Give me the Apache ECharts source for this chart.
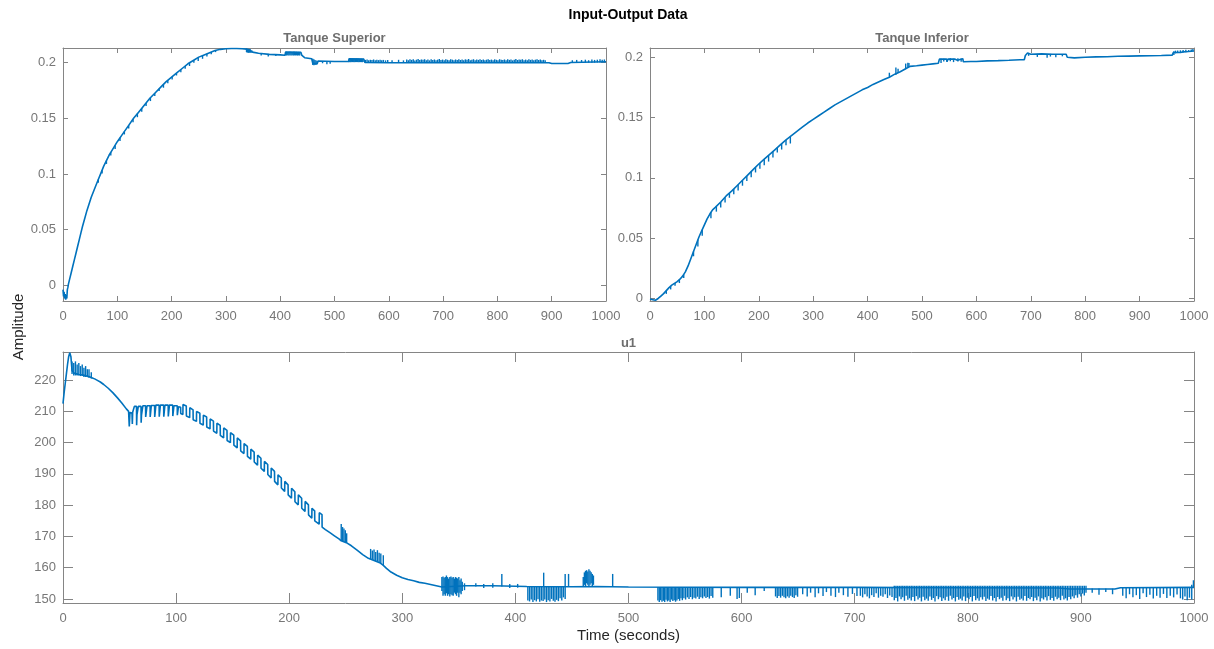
<!DOCTYPE html>
<html><head><meta charset="utf-8">
<script src="https://cdn.jsdelivr.net/npm/echarts@6/dist/echarts.min.js"></script>
<style>html,body{margin:0;padding:0;background:#fff}#c{width:1214px;height:649px}</style>
</head><body><div id="c"></div>
<script>
// ---------- DATA ----------
const timeRange = [0, 1000];
const supRange = [-0.0142, 0.2132];
const infRange = [-0.0021, 0.2077];
const u1Range = [148.7, 229.0];

// Tanque Superior: main trace [time, value]
const supLine = [[0,-0.004],[1,-0.01],[2,-0.006],[3,-0.012],[4,-0.008],[5,-0.013],[6,-0.009],[7,-0.012],[8,-0.004],[9,-0.002],[10,0.001],[12,0.005],[15,0.011],[18,0.017],[21,0.023],[24,0.029],[27,0.035],[30,0.041],[33,0.047],[36,0.053],[40,0.06],[44,0.067],[48,0.073],[52,0.079],[56,0.084],[60,0.089],[65,0.095],[70,0.101],[75,0.107],[80,0.112],[85,0.117],[90,0.121],[95,0.125],[100,0.129],[110,0.136],[120,0.143],[130,0.15],[140,0.156],[150,0.162],[160,0.168],[170,0.173],[180,0.178],[190,0.183],[200,0.187],[210,0.191],[220,0.195],[230,0.199],[240,0.202],[250,0.205],[260,0.207],[270,0.209],[280,0.211],[290,0.212],[300,0.2125],[310,0.2128],[320,0.2127],[330,0.2125],[338,0.2122],[349,0.2095],[360,0.2085],[380,0.2075],[400,0.207],[409,0.2067],[410,0.2095],[438,0.2093],[440,0.2065],[445,0.2045],[458,0.2035],[460,0.1995],[468,0.199],[470,0.2015],[500,0.201],[526,0.2012],[527,0.2035],[554,0.2032],[556,0.2002],[600,0.2],[700,0.2],[800,0.2],[895,0.2],[900,0.1993],[930,0.1993],[935,0.2002],[1000,0.2008]];
// Tanque Superior: short glitches [time, low, high]
const supSpikes = [[65,0.092,0.095],[72,0.1005,0.1034],[80,0.109,0.112],[88,0.1165,0.1194],[96,0.1225,0.1258],[105,0.1295,0.1325],[113,0.1355,0.1381],[121,0.1408,0.1437],[129,0.1465,0.1493],[137,0.151,0.1542],[145,0.156,0.159],[153,0.161,0.1638],[161,0.1655,0.1685],[169,0.17,0.1725],[177,0.1745,0.1765],[185,0.1775,0.1805],[193,0.1815,0.1842],[201,0.1848,0.1874],[209,0.1885,0.1906],[217,0.1915,0.1938],[225,0.1945,0.197],[233,0.197,0.1999],[241,0.2,0.2023],[249,0.2015,0.2047],[257,0.2035,0.2064],[265,0.2055,0.208],[273,0.2075,0.2096],[281,0.2095,0.2111],
[338,0.2095,0.2128],[339,0.2092,0.2126],[340,0.2095,0.2125],[341,0.209,0.2122],[342,0.2092,0.2125],[343,0.209,0.212],[344,0.2095,0.2123],[345,0.2092,0.212],[346,0.209,0.2115],[348,0.2092,0.211],
[365,0.2065,0.2085],[378,0.2055,0.2078],[392,0.206,0.2072],
[410,0.2066,0.2098],[412,0.2065,0.2099],[414,0.2067,0.2097],[416,0.2064,0.2099],[418,0.2066,0.2098],[420,0.2065,0.2099],[422,0.2067,0.2096],[424,0.2064,0.2098],[426,0.2066,0.2099],[428,0.2065,0.2097],[430,0.2066,0.2098],[432,0.2064,0.2096],[434,0.2066,0.2097],[436,0.2065,0.2095],
[460,0.198,0.2035],[462,0.1978,0.203],[464,0.198,0.2025],[466,0.1982,0.202],[468,0.1985,0.2018],[478,0.1995,0.2015],[486,0.1985,0.2015],[492,0.199,0.2015],
[527,0.2005,0.2038],[528.5,0.2006,0.2036],[530,0.2005,0.2038],[531.5,0.2007,0.2035],[533,0.2005,0.2037],[534.5,0.2006,0.2038],[536,0.2005,0.2036],[537.5,0.2007,0.2037],[539,0.2005,0.2035],[540.5,0.2006,0.2038],[542,0.2005,0.2036],[543.5,0.2007,0.2037],[545,0.2005,0.2035],[546.5,0.2006,0.2036],[548,0.2005,0.2034],[549.5,0.2006,0.2036],[551,0.2005,0.2033],[552.5,0.2006,0.2035],
[557,0.2,0.2025],[560,0.2,0.2028],[563,0.2,0.2022],[566,0.2,0.2026],[569,0.2,0.2024],[572,0.2,0.2029],[575,0.2,0.2021],[578,0.2,0.2026],[581,0.2,0.2023],[584,0.2,0.2027],[587,0.2,0.2022],[590,0.2,0.2025],[594,0.2,0.2021],[598,0.2,0.2024],
[606,0.2,0.2022],[618,0.2,0.2026],[627,0.2,0.2021],
[633,0.2,0.2028],[636,0.2,0.2022],[639,0.2,0.2032],[642,0.2,0.2025],[645,0.2,0.203],[648,0.2,0.202],[651,0.2,0.2027],[654,0.2,0.2033],[657,0.2,0.2024],[660,0.2,0.2029],
[663,0.2,0.2026],[666,0.2,0.2031],[669,0.2,0.2023],[672,0.2,0.2028],[675,0.2,0.2021],[678,0.2,0.2032],[681,0.2,0.2025],[684,0.2,0.2029],[687,0.2,0.2022],[690,0.2,0.2027],
[693,0.2,0.2033],[696,0.2,0.2024],[699,0.2,0.2028],[702,0.2,0.2021],[705,0.2,0.203],[708,0.2,0.2026],[711,0.2,0.2023],[714,0.2,0.2031],[717,0.2,0.2027],[720,0.2,0.2022],
[723,0.2,0.2029],[726,0.2,0.2025],[729,0.2,0.2032],[732,0.2,0.2024],[735,0.2,0.2028],[738,0.2,0.2021],[741,0.2,0.203],[744,0.2,0.2026],[747,0.2,0.2033],[750,0.2,0.2023],
[753,0.2,0.2027],[756,0.2,0.2031],[759,0.2,0.2022],[762,0.2,0.2028],[765,0.2,0.2025],[768,0.2,0.203],[771,0.2,0.2024],[774,0.2,0.2029],[777,0.2,0.2021],[780,0.2,0.2027],
[783,0.2,0.2032],[786,0.2,0.2025],[789,0.2,0.2028],[792,0.2,0.2023],[795,0.2,0.203],[798,0.2,0.2026],[801,0.2,0.2022],[804,0.2,0.2031],[807,0.2,0.2027],[810,0.2,0.2024],
[813,0.2,0.2029],[816,0.2,0.2022],[819,0.2,0.2032],[822,0.2,0.2025],[825,0.2,0.2028],[828,0.2,0.2021],[831,0.2,0.2027],[834,0.2,0.2033],[837,0.2,0.2024],[840,0.2,0.2029],
[843,0.2,0.2026],[846,0.2,0.2031],[849,0.2,0.2023],[852,0.2,0.2028],[855,0.2,0.2022],[858,0.2,0.203],[861,0.2,0.2025],[864,0.2,0.2029],[867,0.2,0.2021],[870,0.2,0.2027],
[873,0.2,0.2031],[876,0.2,0.2024],[879,0.2,0.2028],[882,0.2,0.2022],[885,0.2,0.2026],[888,0.2,0.2023],
[938,0.1998,0.2022],[946,0.1999,0.2025],[955,0.2,0.2024],[962,0.2,0.2027],[968,0.2,0.2022],[974,0.2,0.2028],[979,0.2,0.2025],[984,0.2002,0.2027],[989,0.2002,0.203],[993,0.2003,0.2026],[997,0.2003,0.2029]];

// Tanque Inferior: main trace [time, value]
const infLine = [[0,-0.0005],[5,-0.001],[10,-0.0015],[15,0.0],[20,0.002],[25,0.004],[30,0.0065],[35,0.009],[40,0.011],[45,0.0125],[50,0.014],[55,0.016],[60,0.0185],[65,0.022],[70,0.027],[75,0.033],[80,0.039],[85,0.045],[90,0.051],[95,0.056],[100,0.061],[105,0.066],[110,0.07],[115,0.0735],[120,0.0755],[130,0.08],[140,0.085],[150,0.089],[160,0.0935],[170,0.098],[180,0.1025],[190,0.107],[200,0.1115],[210,0.1155],[220,0.1195],[230,0.1235],[240,0.1275],[250,0.1315],[260,0.135],[270,0.1385],[280,0.142],[290,0.1455],[300,0.1485],[310,0.1515],[320,0.1545],[330,0.1575],[340,0.1605],[350,0.163],[360,0.1655],[370,0.168],[380,0.1705],[390,0.173],[400,0.175],[410,0.1775],[420,0.1795],[430,0.1815],[440,0.1835],[450,0.186],[460,0.188],[470,0.1905],[478,0.1925],[490,0.193],[500,0.1935],[510,0.194],[520,0.1945],[530,0.195],[532,0.1985],[545,0.1985],[546,0.1965],[548,0.1985],[560,0.1985],[565,0.1975],[566,0.1988],[575,0.1988],[576,0.1963],[590,0.1965],[600,0.1965],[620,0.197],[640,0.1972],[660,0.1975],[680,0.198],[688,0.198],[690,0.2015],[693,0.2015],[694,0.2035],[700,0.2025],[720,0.2028],[740,0.2025],[765,0.2025],[767,0.2],[780,0.1995],[800,0.2],[820,0.2003],[840,0.2005],[860,0.2008],[880,0.201],[900,0.2012],[920,0.2013],[940,0.2015],[960,0.2018],[962,0.204],[975,0.204],[980,0.2045],[990,0.2048],[1000,0.2052]];
// Tanque Inferior: short glitches [time, low, high]
const infSpikes = [[30,0.0038,0.0065],[38,0.0075,0.0102],[46,0.0105,0.0129],[54,0.0128,0.0156],[62,0.017,0.0198],[80,0.035,0.039],[88,0.043,0.0486],[96,0.052,0.057],[112,0.0665,0.0715],[122,0.072,0.0765],[130,0.0755,0.08],[138,0.0795,0.084],[146,0.0835,0.0875],[154,0.0865,0.0908],[162,0.0895,0.0944],[170,0.0935,0.098],[178,0.0975,0.1016],[186,0.1005,0.1052],[194,0.1045,0.1088],[202,0.1075,0.1123],[210,0.1105,0.1155],[218,0.1135,0.1187],[226,0.117,0.1219],[234,0.121,0.1251],[242,0.1235,0.1283],[250,0.127,0.1315],[258,0.1285,0.1343],[440,0.1835,0.1872],[452,0.1855,0.1915],[456,0.187,0.1905],[470,0.1905,0.1948],[474,0.1915,0.1955],[476,0.1918,0.1952],
[535,0.1952,0.1988],[540,0.1965,0.1988],[546,0.196,0.1988],[552,0.1968,0.1992],[558,0.196,0.1988],[566,0.1965,0.1992],[572,0.1962,0.199],
[696,0.2012,0.2036],[712,0.2003,0.2028],[730,0.1996,0.2025],[736,0.2006,0.2028],[746,0.2001,0.2025],[758,0.2008,0.2025],
[963,0.2018,0.205],[966,0.2032,0.2055],[970,0.2035,0.2056],[975,0.2036,0.2058],[980,0.204,0.206],[985,0.2042,0.2062],[990,0.2045,0.206],[995,0.2048,0.2065],[998,0.205,0.2068]];

// u1: main trace [time, value]
const u1Line = [[0,212.5],[1,216],[2,219],[3,222],[4,225],[5,227.5],[6,228.8],[7,227.5],[8,223],[9,222.5],[10,222.2],[12,222],[14,221.8],[16,221.7],[18,221.6],[20,221.4],[22,221.2],[24,221],[26,220.7],[28,220.4],[30,220],[33,219.4],[36,218.6],[40,217.4],[44,216],[48,214.4],[52,212.7],[56,210.8],[58,210],
[58.6,205.2],[59.2,209.6],[61,209.5],[61.3,206],[61.6,209.7],[63,209.7],[63.1,211.6],[65,211.6],[65.1,205.6],[65.4,209],[66.5,209],[66.6,211.6],[69,211.6],[69.1,206.4],[69.4,208.8],[70.5,208.8],[70.6,211.8],[73,211.8],[73.1,208.2],[74.2,208.2],[74.3,211.8],[77,211.8],[77.1,208.2],[78,208.2],[78.1,211.9],[81,211.9],[81.1,208.2],[82,208.2],[82.1,212],[85,212],[85.1,208.3],[86,208.3],[86.1,212],[89,212],[89.1,208.3],[90,208.3],[90.1,212],[93,212],[93.1,208.4],[94,208.4],[94.1,212],[97,212],[97.1,208.5],[98,208.5],[98.1,211.8],[101,211.8],[101.1,208.8],[102,208.8],[102.1,211.5],[104,211.3],[104.1,209.3],
[106,209.0],[106.1,212.2],[109,211.7],[109.1,208.5],[112,208.0],[112.1,211.2],[115,210.5],[115.1,207.3],[118,206.8],[118.1,210.0],[121,209.4],[121.1,206.2],[124,205.6],[124.1,208.8],[127,208.2],[127.1,205.0],[130,204.4],[130.1,207.6],[133,206.9],[133.1,203.7],[136,203.0],[136.1,206.2],[139,205.5],[139.1,202.3],[142,201.5],[142.1,204.7],[145,203.9],[145.1,200.7],[148,200.0],[148.1,203.2],[151,202.4],[151.1,199.2],[154,198.3],[154.1,201.5],[157,200.6],[157.1,197.4],[160,196.5],[160.1,199.7],[163,198.8],[163.1,195.6],[166,194.7],[166.1,197.9],[169,197.0],[169.1,193.8],[172,192.8],[172.1,196.0],[175,195.0],[175.1,191.8],[178,190.8],[178.1,194.0],[181,193.0],[181.1,189.8],[184,188.7],[184.1,191.9],[187,190.8],[187.1,187.6],[190,186.5],[190.1,189.7],[193,188.7],[193.1,185.5],[196,184.4],[196.1,187.6],[199,186.5],[199.1,183.3],[202,182.2],[202.1,185.4],[205,184.3],[205.1,181.1],[208,180.1],[208.1,183.3],[211,182.2],[211.1,179.0],[214,178.0],[214.1,181.2],[217,180.1],[217.1,176.9],[220,175.8],[220.1,179.0],[222.5,178.2],[222.6,175.0],
[224,174.6],[226.5,173.9],[226.6,177.6],[229,177],[229.1,173],[232,172.2],[236,171.2],[240,170.2],[244,169.2],[246,168.6],[250.5,168],[255,167],[260,165.6],[265,164.2],[270,163],[275,162.3],[280,161.6],[283,160.8],[286,159.8],[290,158.6],[295,157.6],[300,156.8],[305,156.2],[310,155.8],[315,155.3],[320,155],[325,154.6],[330,154.2],[335,153.8],
[356,154.2],[380,154.2],[410,154],[450,153.9],[470,154],[500,153.8],[600,153.7],[700,153.7],[800,153.6],[880,153.5],[890,153.2],[930,153.2],[935,153.6],[1000,153.7]];
// u1: short glitches [time, low, high]
const u1Spikes = [[8,222,226],[9.5,221.5,225.5],[11,221.5,226],[12.5,221.5,225],[14,221.5,225.5],[15.5,221.3,224.5],[17,221.3,225],[18.5,221,224],[20,221,224.5],[21.5,221,223.5],[23,220.8,223.5],[25,220.5,222.5],
[246,168.6,174],[247.2,168.4,173],[248.4,168.3,172.5],[249.6,168.2,172],[250.8,168,171],[272,162.7,166],[273.5,162.6,165.5],[275,162.3,165.8],[276.5,162.1,165],[278,162,165.6],[279.5,161.8,164.8],[281,161.4,164.5],[283.2,160.7,164],
[335,152.5,157],[336,151,157.2],[337,151.5,156.8],[338,151,157],[339,151.8,157.5],[340,151,157],[341,151.5,156.5],[342,150.8,157],[343,151.5,157.2],[344,151.2,156.8],[345,151,157],[346,152,156.5],[347,151.5,157],[348,151,156.8],[349,152,156.5],[350,150.5,157],[351,152,156],[352,151.5,156.5],[353,152.5,155.5],[355,152.8,155],
[365,154,155],[372,153.5,154.8],[380,153.6,155],[388,154,158],[395,153.5,154.8],[402,153.6,154.8],
[411,149.5,154.1],[412.5,149.2,154],[414,149.8,154.1],[415.5,149,154],[417,149.6,154],[418.5,149.2,154.1],[420,149.9,154],[421.5,149.1,154],[423,149.5,154.1],[424.5,149.3,154],[425,154,158.4],[426,149.8,154],[427.5,149,154],[429,149.6,154.1],[430.5,149.2,154],[432,150,154],[433.5,149.4,154],[435,149.1,154.1],[436.5,149.7,154],[438,149.3,154],[439.5,150.2,154],[441,149.5,154],[442.5,150.5,154],[444,150,158],[447,154,158],
[460,154,157],[461,154.5,158.5],[462,154,159],[463,155,159.2],[464,154.5,158.8],[465,154,159.5],[466,154.5,159],[467,155,158.5],[468,154,158],[469,154.5,157.5],[486,154,158],
[526,149.5,153.8],[527.2,149,153.8],[528.4,149.6,153.8],[529.6,149.1,153.8],[530.8,149.4,153.8],[532,149,153.8],[533.2,149.7,153.8],[534.4,149.2,153.8],[535.6,149.5,153.8],[536.8,149,153.8],[538,149.8,153.8],[539.2,149.3,153.8],[540.4,149.6,153.8],[541.6,149.1,153.8],[542.8,149.5,153.8],[544,150,153.8],[545.2,149.4,153.8],[546.4,150.2,153.8],[547.6,149.6,153.8],
[549,150.2,153.8],[550.5,149.8,153.8],[552,150.5,153.8],[553.5,150,153.8],[555,150.6,153.8],[556.5,149.9,153.8],[558,150.4,153.8],[559.5,150.1,153.8],[561,150.7,153.8],[562.5,150,153.8],[564,150.5,153.8],[565.5,150.2,153.8],[567,150.8,153.8],[568.5,150.3,153.8],[570,150.6,153.8],[571.5,150.1,153.8],[573,150.9,153.8],[574.5,150.4,153.8],
[582,150.5,153.8],[590,151,153.8],[596,150,153.8],[598,150.3,153.8],[605,152,153.8],[612,151.2,153.8],[620,152.5,153.8],
[630,150.8,153.8],[631.5,150.3,153.8],[633,150.9,153.8],[634.5,150.4,153.8],[636,151,153.8],[637.5,150.5,153.8],[639,150.2,153.8],[640.5,150.8,153.8],[642,150.4,153.8],[643.5,151,153.8],[645,150.6,153.8],[646.5,150.3,153.8],[648,151.2,153.8],[649.5,150.7,153.8],
[654,151.5,153.8],[658,150.8,153.8],[661,152,153.8],[665,150.5,153.8],[668,151.8,153.8],[672,150.9,153.8],[675,152.2,153.8],[679,151,153.8],[683,150.6,153.8],[686,152,153.8],[690,151.2,153.8],[694,150.7,153.8],[698,151.6,153.8],[702,150.9,153.8],
[705,151,153.8],[707,150.5,153.8],[709,151.5,153.8],[711,150.8,153.8],[713,150.2,153.8],[715,151.2,153.8],[717,150.6,153.8],[719,151.8,153.8],[721,150.4,153.8],[723,151,153.8],[725,150.7,153.8],[727,151.5,153.8],[729,150.3,153.8],[731,151.1,153.8],[733,150.6,153.8],
[735,149.6,154.2],[736.5,150.3,154.2],[738,149.2,154.2],[739.5,150.8,154.2],[741,149.9,154.2],[742.5,150.5,154.2],[744,149.4,154.2],[745.5,151,154.2],[747,149.7,154.2],[748.5,150.2,154.2],
[750,149.5,154.2],[751.5,150.6,154.2],[753,149.3,154.2],[754.5,150.9,154.2],[756,149.8,154.2],[757.5,150.4,154.2],[759,149.2,154.2],[760.5,150.7,154.2],[762,149.6,154.2],[763.5,150.1,154.2],
[765,149.4,154.2],[766.5,150.8,154.2],[768,149.7,154.2],[769.5,150.3,154.2],[771,149.2,154.2],[772.5,150.9,154.2],[774,149.9,154.2],[775.5,150.5,154.2],[777,149.3,154.2],[778.5,150.2,154.2],
[780,149.6,154.2],[781.5,150.7,154.2],[783,149.4,154.2],[784.5,151,154.2],[786,149.8,154.2],[787.5,150.3,154.2],[789,149.2,154.2],[790.5,150.6,154.2],[792,149.7,154.2],[793.5,150.1,154.2],
[795,149.5,154.2],[796.5,150.8,154.2],[798,149.3,154.2],[799.5,150.4,154.2],[801,149.9,154.2],[802.5,150.6,154.2],[804,149.2,154.2],[805.5,150.9,154.2],[807,149.6,154.2],[808.5,150.2,154.2],
[810,149.4,154.2],[811.5,150.5,154.2],[813,149.8,154.2],[814.5,150.7,154.2],[816,149.3,154.2],[817.5,150.1,154.2],[819,149.7,154.2],[820.5,150.9,154.2],[822,149.5,154.2],[823.5,150.3,154.2],
[825,149.2,154.2],[826.5,150.6,154.2],[828,149.9,154.2],[829.5,150.4,154.2],[831,149.4,154.2],[832.5,151,154.2],[834,149.6,154.2],[835.5,150.2,154.2],[837,149.3,154.2],[838.5,150.8,154.2],
[840,149.8,154.2],[841.5,150.5,154.2],[843,149.2,154.2],[844.5,150.7,154.2],[846,149.7,154.2],[847.5,150.1,154.2],[849,149.5,154.2],[850.5,150.9,154.2],[852,149.4,154.2],[853.5,150.3,154.2],
[855,149.9,154.2],[856.5,150.6,154.2],[858,149.3,154.2],[859.5,150.4,154.2],[861,149.6,154.2],[862.5,150.8,154.2],[864,149.2,154.2],[865.5,150.2,154.2],[867,149.8,154.2],[868.5,150.5,154.2],
[870,149.5,154.2],[871.5,150.9,154.2],[873,149.7,154.2],[874.5,150.3,154.2],[876,149.4,154.2],[877.5,150.7,154.2],[879,149.9,154.2],[880.5,150.4,154.2],[882,149.6,154.2],[883.5,151,154.2],
[885,149.8,154.2],[886.5,150.2,154.2],[888,149.5,154.2],[889.5,150.6,154.2],[891,149.9,154.2],[892.5,150.8,154.2],[894,150.2,154.2],[895.5,151.2,154.2],[897,150.4,154.2],[898.5,151.5,154.2],[900,150.8,154.2],[901.5,151.7,154.2],[903,151.1,154.2],[904.5,152,154.2],
[910,152,153.3],[916,151.3,153.3],[922,152.2,153.3],[928,151.5,153.3],
[937,151,153.6],[940,150.2,153.6],[943,151.5,153.6],[946,150.5,153.6],[949,151.2,153.6],[952,150,153.6],[955,151.8,153.6],[958,150.6,153.6],[961,151.3,153.6],[964,150.1,153.6],[967,151,153.6],[970,150.4,153.6],[973,151.6,153.6],[976,150.3,153.6],[979,151,153.6],[982,150.5,153.6],[985,151.4,153.6],[988,150.2,153.6],[990,149.8,153.6],[992,150.8,153.6],[994,149.6,153.6],[996,150.4,153.6],[998,149.8,154.5],[999.5,153.6,156]];

// ---------- STYLE ----------
const LINE = '#0072BD';
const AX = '#858585';
const LBL = '#777777';
const FONT = '"Liberation Sans", Arial, Helvetica, sans-serif';

function spikeItem(params, api) {
  const a = api.coord([api.value(0), api.value(1)]);
  const b = api.coord([api.value(0), api.value(2)]);
  return { type: 'line', shape: { x1: a[0], y1: a[1], x2: b[0], y2: b[1] },
           style: { stroke: LINE, lineWidth: 1.4 } };
}
const plainNum = v => String(v);

function xAxes(gi, tickLen) {
  const base = {
    gridIndex: gi, type: 'value', min: timeRange[0], max: timeRange[1], interval: 100,
    axisLine: { show: true, onZero: false, lineStyle: { color: AX, width: 1 } },
    axisTick: { show: true, inside: true, length: tickLen, lineStyle: { color: AX } },
    splitLine: { show: false }
  };
  return [
    Object.assign({}, base, { position: 'bottom',
      axisLabel: { show: true, color: LBL, fontSize: 13, fontFamily: FONT, margin: 9, formatter: plainNum } }),
    Object.assign({}, base, { position: 'top', axisLabel: { show: false } })
  ];
}
function yAxes(gi, range, split, tickLen) {
  const base = {
    gridIndex: gi, type: 'value', min: range[0], max: range[1], splitNumber: split,
    axisLine: { show: true, onZero: false, lineStyle: { color: AX, width: 1 } },
    axisTick: { show: true, inside: true, length: tickLen, lineStyle: { color: AX } },
    splitLine: { show: false }
  };
  return [
    Object.assign({}, base, { position: 'left',
      axisLabel: { show: true, color: LBL, fontSize: 13, fontFamily: FONT, margin: 7,
                   showMinLabel: false, showMaxLabel: false, formatter: plainNum } }),
    Object.assign({}, base, { position: 'right', axisLabel: { show: false } })
  ];
}
function lineSeries(idx, data) {
  return { type: 'line', xAxisIndex: idx, yAxisIndex: idx, data: data, symbol: 'none',
           showSymbol: false, clip: true, lineStyle: { color: LINE, width: 1.6 }, silent: true };
}
function spikeSeries(idx, data) {
  return { type: 'custom', xAxisIndex: idx, yAxisIndex: idx, data: data, renderItem: spikeItem,
           encode: { x: 0, y: [1, 2] }, clip: true, silent: true };
}

const chart = echarts.init(document.getElementById('c'), null, { renderer: 'canvas' });
chart.setOption({
  animation: false,
  backgroundColor: '#fff',
  grid: [
    { left: 63, top: 48, width: 543, height: 253 },
    { left: 650, top: 48, width: 544, height: 253 },
    { left: 63, top: 352, width: 1131, height: 251 }
  ],
  xAxis: [].concat(xAxes(0, 5), xAxes(1, 5), xAxes(2, 10)),
  yAxis: [].concat(yAxes(0, supRange, 5, 5), yAxes(1, infRange, 5, 5), yAxes(2, u1Range, 8, 10)),
  series: [
    lineSeries(0, supLine), spikeSeries(0, supSpikes),
    lineSeries(2, infLine), spikeSeries(2, infSpikes),
    lineSeries(4, u1Line), spikeSeries(4, u1Spikes)
  ],
  graphic: [
    { type: 'text', x: 628, y: 15, style: { text: 'Input-Output Data', align: 'center', verticalAlign: 'middle',
      fontSize: 14, fontWeight: 'bold', fontFamily: FONT, fill: '#000' } },
    { type: 'text', x: 334.5, y: 38, style: { text: 'Tanque Superior', align: 'center', verticalAlign: 'middle',
      fontSize: 13, fontWeight: 'bold', fontFamily: FONT, fill: '#6e6e6e' } },
    { type: 'text', x: 922, y: 38, style: { text: 'Tanque Inferior', align: 'center', verticalAlign: 'middle',
      fontSize: 13, fontWeight: 'bold', fontFamily: FONT, fill: '#6e6e6e' } },
    { type: 'text', x: 628.5, y: 343, style: { text: 'u1', align: 'center', verticalAlign: 'middle',
      fontSize: 13, fontWeight: 'bold', fontFamily: FONT, fill: '#6e6e6e' } },
    { type: 'text', x: 19, y: 327, rotation: Math.PI / 2, style: { text: 'Amplitude', align: 'center', verticalAlign: 'middle',
      fontSize: 15, fontFamily: FONT, fill: '#262626' } },
    { type: 'text', x: 628.5, y: 636, style: { text: 'Time (seconds)', align: 'center', verticalAlign: 'middle',
      fontSize: 15, fontFamily: FONT, fill: '#262626' } }
  ]
});
</script>
</body></html>
